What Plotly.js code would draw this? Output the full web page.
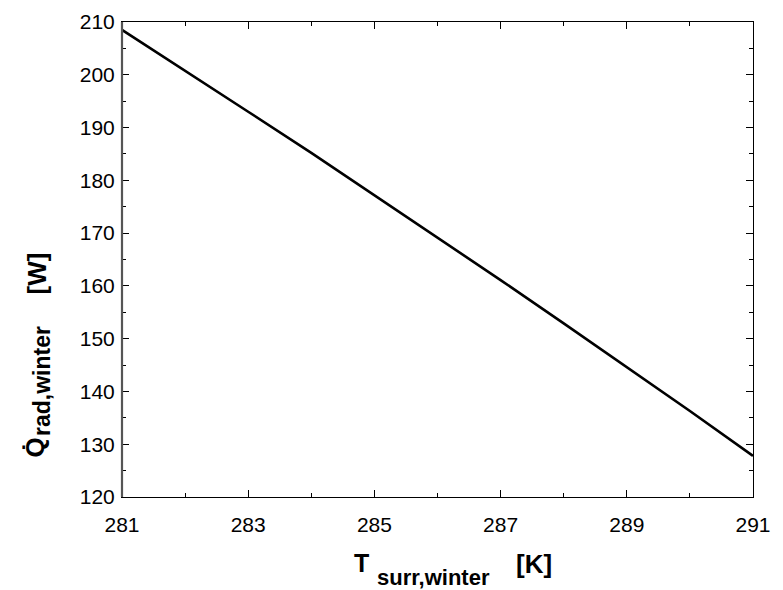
<!DOCTYPE html>
<html>
<head>
<meta charset="utf-8">
<script src="https://cdn.plot.ly/plotly-3.0.1.min.js"></script>
<style>html,body{margin:0;padding:0;background:#fff;}</style>
</head>
<body>
<div id="chart" style="width:783px;height:590px;"></div>
<script>
// Surrounding temperature in winter [K]
const tSurr = [281, 282, 283, 284, 285, 286, 287, 288, 289, 290, 291];
// Radiative heat loss in winter [W]
const qRad = [208.5, 200.8, 193.0, 185.2, 177.2, 169.2, 161.1, 152.9, 144.6, 136.3, 127.8];

const xTickVals = [281, 283, 285, 287, 289, 291];
const yTickVals = [120, 130, 140, 150, 160, 170, 180, 190, 200, 210];

const FAMILY = 'Liberation Sans, Arial, sans-serif';
const tickFont = {family: FAMILY, size: 21, color: '#000'};

const trace = {
  x: tSurr, y: qRad, type: 'scatter', mode: 'lines',
  line: {color: '#000', width: 2.6}, hoverinfo: 'skip'
};

function ann(text, x, y, size, extra) {
  return Object.assign({
    text: text, xref: 'paper', yref: 'paper', x: x, y: y,
    xanchor: 'center', yanchor: 'middle', showarrow: false,
    font: {family: FAMILY, size: size, color: '#000'}
  }, extra || {});
}

const layout = {
  width: 783, height: 590,
  margin: {l: 122, r: 30, t: 22, b: 93},
  paper_bgcolor: '#fff', plot_bgcolor: '#fff',
  showlegend: false,
  xaxis: {
    range: [281, 291], tickvals: xTickVals, ticktext: xTickVals.map(String),
    ticks: 'inside', ticklen: 7, tickwidth: 1, tickcolor: '#000',
    minor: {dtick: 1, tick0: 281, ticks: 'inside', ticklen: 4, tickwidth: 1, tickcolor: '#000'},
    showline: true, linecolor: '#000', linewidth: 1, mirror: 'ticks',
    showgrid: false, zeroline: false, tickfont: tickFont, ticklabelstandoff: 9
  },
  yaxis: {
    range: [120, 210], tickvals: yTickVals, ticktext: yTickVals.map(String),
    ticks: 'inside', ticklen: 7, tickwidth: 1, tickcolor: '#000',
    minor: {dtick: 5, tick0: 120, ticks: 'inside', ticklen: 4, tickwidth: 1, tickcolor: '#000'},
    showline: true, linecolor: '#000', linewidth: 1, mirror: 'ticks',
    showgrid: false, zeroline: false, tickfont: tickFont, ticklabelstandoff: 2
  },
  shapes: [{
    type: 'line', xref: 'paper', yref: 'paper', x0: 0, x1: 0, y0: 0, y1: 1,
    line: {color: '#555', width: 2.2}
  }],
  annotations: [
    // x-axis title: T_surr,winter [K]
    ann('<b>T</b>', 0.380, -0.1396, 25),
    ann('<b>surr,winter</b>', 0.494, -0.170, 22),
    ann('<b>[K]</b>', 0.653, -0.141, 26),
    // y-axis title: Qdot_rad,winter [W]
    ann('<b>Q\u0307</b>', -0.1379, 0.1042, 26, {textangle: -90}),
    ann('<b>rad,winter</b>', -0.1268, 0.2442, 23, {textangle: -90}),
    ann('<b>[W]</b>', -0.1347, 0.4705, 26, {textangle: -90})
  ]
};

Plotly.newPlot('chart', [trace], layout, {displayModeBar: false, staticPlot: true});
</script>
</body>
</html>
